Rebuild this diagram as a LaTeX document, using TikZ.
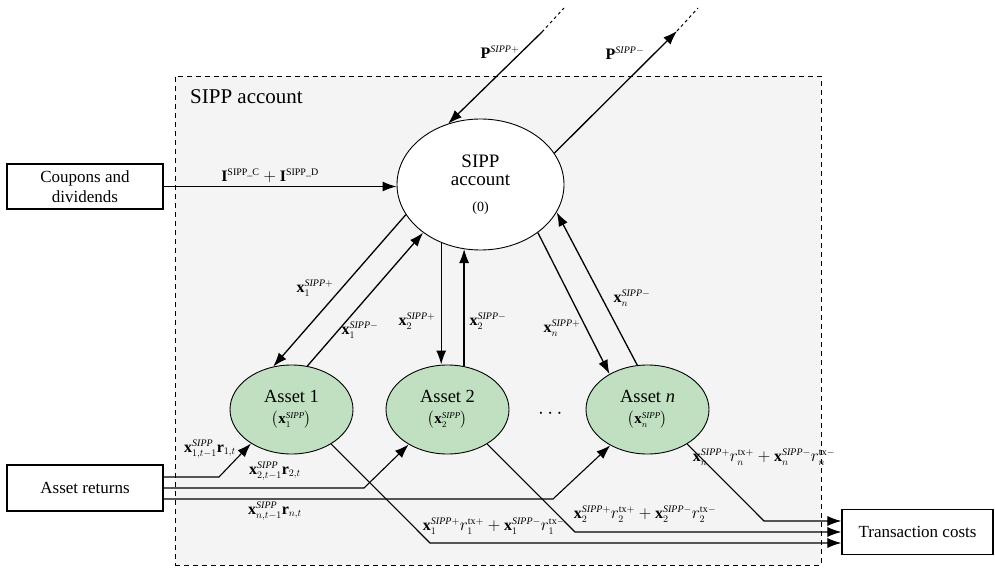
\documentclass[tikz,border=0pt]{standalone}
\usepackage{amsmath}
\usepackage{fontspec}
\setmainfont{Liberation Serif}
\usetikzlibrary{arrows.meta,shapes.geometric,calc}
\definecolor{boxgray}{HTML}{F4F4F4}
\definecolor{assetgreen}{HTML}{C1E0C1}
\DeclareMathSizes{16}{16}{10}{7.5}
\DeclareMathSizes{15}{15}{9}{6.5}
\newcommand{\sipp}{\mathit{SIPP}}
\newcommand{\tx}{\mathrm{tx}}

\begin{document}
\begin{tikzpicture}[x=1pt,y=-1pt,
    every node/.style={inner sep=0pt},
    flow/.style={line width=1.3pt,-{Latex[length=14pt,width=10pt]}},
    thinflow/.style={line width=1.1pt,-{Latex[length=14pt,width=10pt]}},
    plainbox/.style={draw,line width=1.2pt,font=\fontsize{17}{20}\selectfont,align=center},
    acct/.style={draw,ellipse,fill=white,line width=0.9pt,minimum width=167pt,minimum height=131pt,
        font=\fontsize{19}{18}\selectfont,align=center},
    asset/.style={draw,ellipse,fill=assetgreen,line width=0.9pt,minimum width=123pt,minimum height=89pt,
        font=\fontsize{18.5}{21}\selectfont,align=center},
    lbl/.style={font=\fontsize{16}{18}\selectfont}]
    \useasboundingbox (0,0) rectangle (995,569);

    \node[draw,dash pattern=on 5pt off 4pt,line width=0.9pt,fill=boxgray,
        minimum width=646pt,minimum height=489pt] (frame) at (498,320.5) {};
    \node[anchor=west,font=\fontsize{21}{23}\selectfont] (title) at (190,97) {SIPP account};

    \node[plainbox,minimum width=156pt,minimum height=45pt] (coup) at (85,186.5) {Coupons and\\dividends};
    \node[plainbox,minimum width=156pt,minimum height=46pt] (ret) at (85,488) {Asset returns};
    \node[plainbox,minimum width=151pt,minimum height=45pt] (tc) at (917.5,532) {Transaction costs};

    \node[acct] (acc) at (480.5,184.5) {SIPP\\account\\[8pt]{\fontsize{14}{16}\selectfont(0)}};
    \node[asset] (a1) at (291.5,409.5) {Asset 1\\[0pt]{\fontsize{15}{16}\selectfont$\bigl(\mathbf{x}_1^{\sipp}\bigr)$}};
    \node[asset] (a2) at (447.5,409.5) {Asset 2\\[0pt]{\fontsize{15}{16}\selectfont$\bigl(\mathbf{x}_2^{\sipp}\bigr)$}};
    \node[asset] (an) at (647.5,409.5) {Asset \textit{n}\\[0pt]{\fontsize{15}{16}\selectfont$\bigl(\mathbf{x}_n^{\sipp}\bigr)$}};
    \node[font=\fontsize{20}{20}\selectfont] (dots) at (552,414) {$\cdots$};

    \coordinate (pin) at (542,32);
    \coordinate (pout) at (677,31);
    \coordinate (r1) at (219,477);
    \coordinate (r2) at (364,488);
    \coordinate (r3) at (553,499);
    \coordinate (t1) at (430,543);
    \coordinate (t2) at (575,532);
    \coordinate (t3) at (764,521);

    \draw[flow] (coup.east) -- (coup.east -| acc.west);
    \draw[dashed,line width=1pt] (pin) -- ++(22,-24);
    \draw[flow] (pin) -- (acc.118);
    \draw[flow] (acc.23) -- (pout);
    \draw[dashed,line width=1pt] (pout) -- ++(21,-23);

    \draw[flow] (acc.202) -- (a1.113.5);
    \draw[flow] (a1.70.4) -- (acc.220);
    \draw[flow] (acc.236.5) -- (acc.236.5 |- a2.north);
    \draw[flow] (a2.69) -- (a2.69 |- acc.255.6);
    \draw[flow] (acc.320.3) -- (an.137.3);
    \draw[flow] (an.103.3) -- (acc.340.3);

    \draw[thinflow] (r1 -| ret.east) -- (r1) -- (a1.220.3);
    \draw[thinflow] (r2 -| ret.east) -- (r2) -- (a2.222.3);
    \draw[thinflow] (r3 -| ret.east) -- (r3) -- (an.224.2);

    \draw[thinflow] (a1.319) -- (t1) -- (t1 -| tc.west);
    \draw[thinflow] (a2.319.2) -- (t2) -- (t2 -| tc.west);
    \draw[thinflow] (an.319.5) -- (t3) -- (t3 -| tc.west);

    \node[lbl] (lI) at (270,176) {$\mathbf{I}^{\mathrm{SIPP\_C}}+\mathbf{I}^{\mathrm{SIPP\_D}}$};
    \node[lbl] (lPin) at (500,52) {$\mathbf{P}^{\sipp+}$};
    \node[lbl] (lPout) at (625,53) {$\mathbf{P}^{\sipp-}$};
    \node[lbl] (l1p) at (315,288) {$\mathbf{x}_1^{\sipp+}$};
    \node[lbl] (l1m) at (360,330) {$\mathbf{x}_1^{\sipp-}$};
    \node[lbl] (l2p) at (417,321) {$\mathbf{x}_2^{\sipp+}$};
    \node[lbl] (l2m) at (488,321) {$\mathbf{x}_2^{\sipp-}$};
    \node[lbl] (lnp) at (562,328) {$\mathbf{x}_n^{\sipp+}$};
    \node[lbl] (lnm) at (632,298) {$\mathbf{x}_n^{\sipp-}$};
    \node[lbl] (lr1) at (210,449) {$\mathbf{x}_{1,t-1}^{\sipp}\mathbf{r}_{1,t}$};
    \node[lbl] (lr2) at (275,471) {$\mathbf{x}_{2,t-1}^{\sipp}\mathbf{r}_{2,t}$};
    \node[lbl] (lr3) at (275,511) {$\mathbf{x}_{n,t-1}^{\sipp}\mathbf{r}_{n,t}$};
    \node[lbl] (lt1) at (494,526) {$\mathbf{x}_1^{\sipp+}r_1^{\tx+}+\mathbf{x}_1^{\sipp-}r_1^{\tx-}$};
    \node[lbl] (lt2) at (645,514) {$\mathbf{x}_2^{\sipp+}r_2^{\tx+}+\mathbf{x}_2^{\sipp-}r_2^{\tx-}$};
    \node[lbl] (lt3) at (764,457) {$\mathbf{x}_n^{\sipp+}r_n^{\tx+}+\mathbf{x}_n^{\sipp-}r_n^{\tx-}$};
\end{tikzpicture}
\end{document}
